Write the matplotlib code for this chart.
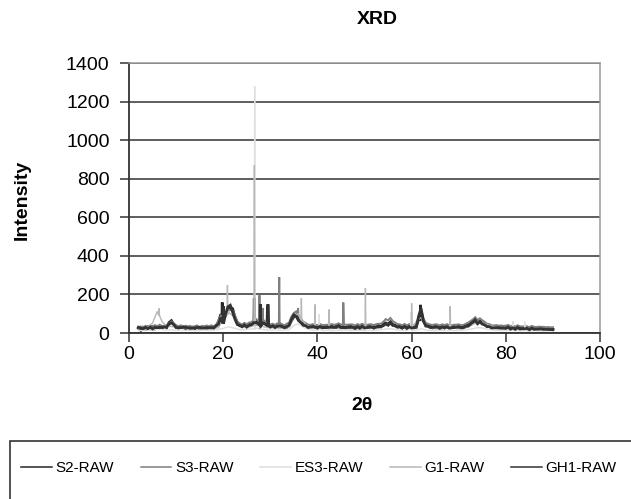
"""
XRD patterns of five raw samples, Excel-style grey chart
"""

import numpy as np
import matplotlib
matplotlib.use('Agg')
import matplotlib.pyplot as plt
from matplotlib.patches import Rectangle

plt.rcParams['font.family'] = ['Liberation Sans', 'DejaVu Sans']

# baseline readings, 2 to 90 deg (0.5 deg step for the dark series, 1 deg for the light ones)
xFine = np.arange(2.0, 90.01, 0.5)
xCoarse = np.arange(2.0, 90.01, 1.0)

s2Base = [24, 14, 29, 20, 32, 22, 33, 21, 30, 35,
          25, 36, 28, 54, 64, 44, 35, 24, 29, 33,
          22, 31, 20, 30, 23, 32, 19, 29, 31, 20,
          30, 33, 24, 36, 58, 98, 70, 90, 120, 134,
          126, 80, 54, 38, 40, 46, 33, 44, 47, 60,
          64, 45, 46, 60, 50, 38, 40, 35, 36, 33,
          44, 32, 34, 30, 40, 64, 84, 94, 72, 60,
          43, 41, 30, 34, 38, 29, 33, 37, 28, 32,
          36, 27, 38, 29, 36, 40, 30, 33, 28, 34,
          37, 27, 31, 35, 26, 37, 28, 32, 36, 29,
          33, 30, 38, 32, 46, 52, 46, 58, 44, 40,
          32, 35, 27, 37, 26, 35, 29, 31, 36, 72,
          114, 66, 44, 33, 36, 27, 37, 29, 32, 30,
          34, 31, 27, 31, 35, 28, 37, 26, 34, 38,
          40, 50, 54, 64, 52, 62, 50, 46, 36, 36,
          28, 31, 29, 30, 27, 29, 26, 33, 23, 30,
          21, 31, 23, 26, 24, 27, 19, 28, 21, 24,
          22, 24, 21, 23, 20, 21, 19]

s3Base = [28, 34, 29, 37, 31, 39, 33, 41, 35, 43,
          37, 36, 39, 49, 60, 50, 41, 35, 40, 33,
          38, 32, 37, 30, 36, 39, 31, 37, 33, 39,
          34, 40, 35, 43, 66, 90, 76, 92, 112, 122,
          116, 92, 60, 50, 44, 52, 46, 54, 56, 68,
          72, 62, 54, 68, 58, 50, 44, 48, 42, 50,
          52, 46, 40, 48, 54, 86, 104, 112, 92, 74,
          58, 52, 44, 42, 46, 44, 40, 47, 42, 41,
          43, 42, 46, 43, 45, 50, 44, 42, 43, 43,
          45, 44, 39, 46, 41, 48, 42, 42, 45, 45,
          41, 46, 48, 48, 58, 72, 66, 78, 62, 54,
          46, 45, 40, 47, 40, 46, 42, 41, 46, 82,
          118, 76, 52, 48, 43, 42, 45, 44, 39, 45,
          41, 46, 40, 40, 43, 43, 45, 41, 42, 48,
          54, 62, 70, 82, 68, 76, 66, 58, 48, 46,
          40, 39, 41, 38, 39, 37, 38, 42, 34, 39,
          33, 40, 35, 33, 36, 35, 30, 37, 32, 31,
          33, 32, 32, 30, 31, 29, 30]

gh1Base = [30, 24, 22, 29, 22, 31, 21, 29, 28, 28,
           30, 30, 33, 46, 53, 44, 28, 28, 28, 29,
           29, 27, 26, 25, 27, 28, 29, 26, 26, 28,
           28, 27, 27, 38, 46, 80, 62, 98, 136, 144,
           108, 72, 44, 40, 32, 42, 31, 40, 42, 54,
           54, 46, 38, 52, 44, 38, 31, 37, 28, 36,
           36, 34, 27, 33, 40, 72, 94, 86, 64, 54,
           40, 38, 29, 30, 31, 32, 25, 34, 27, 28,
           28, 30, 30, 29, 29, 37, 28, 28, 27, 29,
           29, 30, 23, 32, 25, 34, 26, 28, 29, 31,
           25, 32, 31, 33, 38, 48, 40, 52, 39, 37,
           30, 31, 25, 33, 24, 32, 26, 27, 29, 88,
           128, 62, 36, 35, 28, 29, 30, 31, 24, 32,
           26, 33, 25, 27, 28, 30, 30, 28, 27, 35,
           36, 46, 58, 68, 48, 58, 46, 42, 33, 33,
           26, 27, 27, 26, 25, 25, 24, 30, 20, 27,
           19, 28, 21, 22, 22, 24, 17, 25, 19, 20,
           20, 21, 19, 19, 18, 18, 17]

es3Base = [12, 15, 18, 16, 20, 18, 15, 17, 14, 16,
           13, 15, 12, 14, 16, 13, 15, 18, 24, 32,
           28, 20, 16, 18, 22, 26, 20, 17, 15, 16,
           14, 16, 18, 40, 48, 30, 18, 15, 14, 13,
           15, 12, 14, 13, 15, 12, 14, 13, 12, 14,
           13, 15, 18, 22, 20, 16, 14, 13, 12, 15,
           22, 16, 13, 12, 14, 13, 15, 12, 13, 14,
           18, 22, 28, 26, 20, 16, 14, 13, 12, 14,
           13, 12, 14, 11, 13, 12, 10, 12, 11]

g1Base = [20, 24, 30, 52, 112, 60, 34, 34, 30, 26,
          24, 22, 25, 21, 23, 20, 24, 28, 70, 110,
          90, 50, 30, 28, 34, 40, 36, 30, 26, 28,
          24, 26, 30, 90, 100, 60, 34, 28, 26, 24,
          26, 23, 25, 22, 24, 21, 23, 20, 22, 25,
          24, 30, 36, 48, 40, 32, 26, 24, 22, 60,
          80, 36, 24, 22, 21, 23, 30, 25, 22, 24,
          30, 44, 56, 52, 44, 36, 30, 26, 24, 22,
          23, 21, 20, 22, 19, 21, 18, 20, 17]

# sharp reflections: (2theta, foot intensity, top intensity)
s2Peaks = [(19.8, 60, 158), (26.6, 44, 182), (29.4, 40, 140), (61.9, 70, 146)]
s3Peaks = [(27.7, 60, 196), (28.4, 56, 130), (31.9, 46, 289), (45.5, 44, 158),
           (35.9, 90, 130)]
es3Peaks = [(26.68, 20, 1280), (40.4, 20, 97), (59.9, 20, 110), (81.5, 14, 60),
            (84.0, 13, 58)]
g1Peaks = [(6.4, 90, 128), (20.9, 95, 248), (26.62, 40, 870), (36.6, 60, 180),
           (39.5, 28, 148), (42.5, 24, 122), (50.2, 24, 232), (60.0, 30, 154),
           (68.2, 28, 139)]
gh1Peaks = [(20.0, 50, 140), (27.9, 40, 150), (29.5, 38, 149)]

seriesNames = ['S2-RAW', 'S3-RAW', 'ES3-RAW', 'G1-RAW', 'GH1-RAW']
seriesColors = ['#262626', '#7f7f7f', '#dedede', '#b8b8b8', '#333333']
seriesWidths = [2.0, 1.4, 1.0, 1.0, 2.0]


def buildPattern(xBase, yBase, peaks, halfWidth=0.08):
    # put the listed reflections into the baseline readings
    xs = list(xBase)
    ys = list(yBase)
    for pos, foot, top in peaks:
        xs += [pos - halfWidth, pos, pos + halfWidth]
        ys += [foot, top, foot]
    order = np.argsort(xs, kind='stable')
    return np.array(xs)[order], np.array(ys)[order]


def main():
    patterns = [buildPattern(xFine, s2Base, s2Peaks),
                buildPattern(xFine, s3Base, s3Peaks),
                buildPattern(xCoarse, es3Base, es3Peaks),
                buildPattern(xCoarse, g1Base, g1Peaks),
                buildPattern(xFine, gh1Base, gh1Peaks)]

    fig = plt.figure(figsize=(6.31, 4.99), dpi=100)
    ax = fig.add_axes([129 / 631, 1 - 333 / 499, 471 / 631, 270 / 499])

    for (xs, ys), name, col, lw in zip(patterns, seriesNames, seriesColors, seriesWidths):
        ax.plot(xs, ys, color=col, lw=lw, label=name, solid_joinstyle='miter')

    ax.set_xlim(0, 100)
    ax.set_ylim(0, 1400)
    ax.set_xticks(np.arange(0, 101, 20))
    ax.set_yticks(np.arange(0, 1401, 200))
    ax.yaxis.grid(True, color='#333333', lw=1.1)
    ax.set_axisbelow(True)
    ax.tick_params(direction='out', length=6.5, width=1.1, labelsize=14,
                   color='#333333')
    ax.tick_params(axis='y', pad=7.5)
    ax.tick_params(axis='x', pad=3)

    for side in ['top', 'right']:
        ax.spines[side].set_color('#9a9a9a')
        ax.spines[side].set_linewidth(1.1)
    for side in ['left', 'bottom']:
        ax.spines[side].set_color('#333333')
        ax.spines[side].set_linewidth(1.3)

    ax.set_xlabel('2θ', fontsize=14, fontweight='bold', va='center')
    ax.xaxis.set_label_coords(233 / 471, (333 - 405) / 270)
    ax.set_ylabel('Intensity', fontsize=14, fontweight='bold', va='center')
    ax.yaxis.set_label_coords((22 - 129) / 471, (333 - 200) / 270)
    fig.text(377 / 631, 1 - 20 / 499, 'XRD', fontsize=14, fontweight='bold',
             ha='center', va='center')

    # legend box runs off the right and bottom edge as in the original
    fig.patches.append(Rectangle((10 / 631, -0.2), 1.2, 0.2 + 58 / 499,
                                 transform=fig.transFigure, fill=False,
                                 edgecolor='#333333', lw=1.2))
    leg = fig.legend(*ax.get_legend_handles_labels(), loc='center left',
                     bbox_to_anchor=(21 / 631, 1 - 468 / 499), ncol=5, frameon=False,
                     fontsize=11, handlelength=2.0, handletextpad=0.25,
                     columnspacing=1.75, borderaxespad=0, borderpad=0)
    for line in leg.get_lines():
        line.set_linewidth(1.1)

    fig.savefig('out.png', dpi=100)


if __name__ == '__main__':
    main()
